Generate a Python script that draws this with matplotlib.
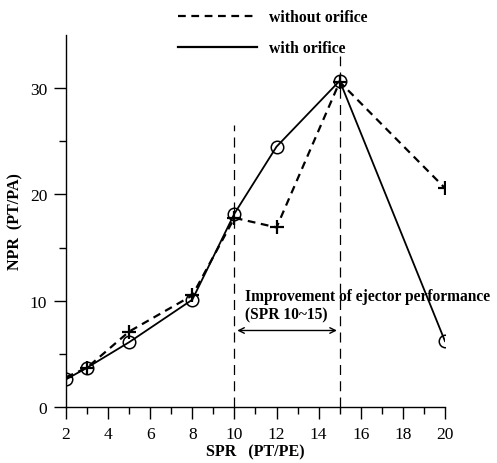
import matplotlib
matplotlib.use("Agg")
import matplotlib.pyplot as plt
from matplotlib.lines import Line2D

plt.rcParams["font.family"] = ["Liberation Serif", "DejaVu Serif"]

# data
spr = [2, 3, 5, 8, 10, 12, 15, 20]
npr_without = [2.8, 3.7, 7.1, 10.5, 17.8, 16.9, 30.6, 20.6]
npr_with = [2.6, 3.7, 6.1, 10.1, 18.2, 24.5, 30.7, 6.2]

region_lo, region_hi = 10, 15
region_top = [26.5, 33.0]
arrow_y = 7.2

fig = plt.figure(figsize=(4.97, 4.64), dpi=100)
ax = fig.add_axes([0.1328, 0.1207, 0.7625, 0.8015])

ax.plot(spr, npr_without, color="black", lw=1.6, ls=(0, (3.5, 2.5)),
        marker="+", ms=10, mew=1.6)
ax.plot(spr, npr_with, color="black", lw=1.3, ls="-",
        marker="o", ms=9, mfc="none", mew=1.1)

# SPR 10~15 region
for xv, top in zip([region_lo, region_hi], region_top):
    ax.plot([xv, xv], [0, top], color="black", lw=0.9, ls=(0, (8, 5)))
ax.annotate("", xy=(region_lo, arrow_y), xytext=(region_hi, arrow_y),
            arrowprops=dict(arrowstyle="<->", color="black", lw=1.0))
ax.text(region_lo + 0.5, 8.0, "Improvement of ejector performance\n(SPR 10~15)",
        fontsize=11.2, fontweight="bold", va="bottom", ha="left", linespacing=1.2)

ax.set_xlim(2, 20)
ax.set_ylim(0, 35)
ax.set_xticks(range(2, 21, 2))
ax.set_xticks(range(3, 20, 2), minor=True)
ax.set_yticks([0, 10, 20, 30])
ax.set_yticks([5, 15, 25], minor=True)
ax.tick_params(which="major", length=8.5, width=1, labelsize=12.5, direction="out",
               color="black", pad=5)
ax.tick_params(which="minor", length=5, width=1, direction="out")
for s in ["top", "right"]:
    ax.spines[s].set_visible(False)
for s in ["left", "bottom"]:
    ax.spines[s].set_linewidth(1.0)
ax.set_xlabel("SPR   (PT/PE)", fontsize=11.5, fontweight="bold", labelpad=1)
ax.set_ylabel("NPR  (PT/PA)", fontsize=11.5, fontweight="bold", labelpad=5)

handles = [Line2D([], [], color="black", lw=1.6, ls=(0, (3.5, 2.5))),
           Line2D([], [], color="black", lw=1.6, ls="-")]
fig.legend(handles, ["without orifice", "with orifice"], loc="upper left",
           bbox_to_anchor=(0.33, 1.008), frameon=False, handlelength=5.0,
           handletextpad=0.8, labelspacing=0.95,
           prop=dict(family="Liberation Serif", weight="bold", size=11.3))

fig.savefig("out.png", dpi=100)
